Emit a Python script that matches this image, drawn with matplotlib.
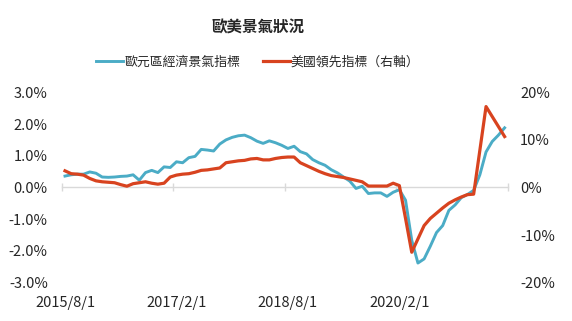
import numpy as np
import pandas as pd
import matplotlib
matplotlib.use("Agg")
import matplotlib.pyplot as plt
from matplotlib.ticker import FuncFormatter

plt.rcParams['font.family'] = ['Noto Sans CJK TC', 'DejaVu Sans']

# monthly categories 2015/8 ~ 2021/7
months = pd.date_range('2015-08-01', periods=72, freq='MS')

# euro area economic indicator, yoy % (left axis)
euro = [0.36, 0.40, 0.42, 0.42, 0.49, 0.45, 0.33, 0.32, 0.33, 0.35,
        0.36, 0.40, 0.23, 0.47, 0.54, 0.47, 0.65, 0.63, 0.81, 0.78,
        0.94, 0.98, 1.20, 1.18, 1.15, 1.37, 1.50, 1.58, 1.63, 1.65,
        1.57, 1.46, 1.39, 1.47, 1.41, 1.33, 1.23, 1.30, 1.13, 1.06,
        0.88, 0.78, 0.70, 0.56, 0.46, 0.33, 0.20, -0.03, 0.04, -0.19,
        -0.17, -0.17, -0.28, -0.15, -0.07, -0.40, -1.66, -2.38, -2.25, -1.85,
        -1.42, -1.20, -0.72, -0.55, -0.32, -0.22, -0.09, 0.40, 1.12, 1.45,
        1.65, 1.88]

# US leading index, yoy % (right axis)
us_lei = [3.5, 2.9, 2.8, 2.6, 1.9, 1.4, 1.2, 1.1, 1.0, 0.6,
          0.27, 0.8, 1.0, 1.2, 0.9, 0.7, 0.9, 2.2, 2.6, 2.8,
          2.9, 3.2, 3.6, 3.7, 3.9, 4.1, 5.2, 5.4, 5.6, 5.7,
          6.0, 6.1, 5.8, 5.8, 6.1, 6.3, 6.4, 6.4, 5.2, 4.6,
          4.0, 3.4, 2.9, 2.5, 2.3, 2.1, 1.8, 1.5, 1.2, 0.3,
          0.3, 0.3, 0.3, 0.9, 0.4, -6.5, -13.6, -10.8, -8.0, -6.5,
          -5.4, -4.3, -3.3, -2.6, -2.0, -1.5, -1.4, 7.8, 17.0, 14.9,
          12.8, 10.7]

teal = '#4BACC6'
red = '#D8431F'
txt = '#262626'

x = np.arange(len(months))

fig = plt.figure(figsize=(5.72, 3.21), dpi=100)
ax = fig.add_axes([0.1079, 0.1193, 0.7797, 0.5932])
ax2 = ax.twinx()

l1, = ax.plot(x, euro, color=teal, lw=2.1, label='歐元區經濟景氣指標', zorder=3)
l2, = ax2.plot(x, us_lei, color=red, lw=2.3, label='美國領先指標（右軸）', zorder=3)

ax.set_xlim(-0.53, 71.18)
ax.set_ylim(-3, 3)
ax2.set_ylim(-20, 20)
ax.set_yticks(np.arange(-3, 3.1, 1))
ax2.set_yticks(np.arange(-20, 21, 10))
ax.yaxis.set_major_formatter(FuncFormatter(lambda v, p: '%.1f%%' % v))
ax2.yaxis.set_major_formatter(FuncFormatter(lambda v, p: '%d%%' % v))

# x axis sits on the zero line, labels pushed down to the bottom
for a in (ax, ax2):
    for s in ['top', 'left', 'right', 'bottom']:
        a.spines[s].set_visible(False)
ax.spines['bottom'].set_visible(True)
ax.spines['bottom'].set_position(('data', 0))
ax.spines['bottom'].set_color('#D9D9D9')
ax.spines['bottom'].set_linewidth(1.0)

lab_idx = [0, 18, 36, 54]
ax.set_xticks(lab_idx)
ax.set_xticklabels(['%d/%d/%d' % (months[i].year, months[i].month, months[i].day) for i in lab_idx])
ax.set_xticks([-0.5, 17.5, 35.5, 53.5, 71.5], minor=True)
ax.tick_params(axis='x', which='major', length=0, pad=78, labelsize=10.5, labelcolor=txt)
ax.tick_params(axis='x', which='minor', length=6, direction='inout', color='#D9D9D9', width=1)
ax.tick_params(axis='y', length=0, pad=10, labelsize=10.5, labelcolor=txt)
ax2.tick_params(axis='y', length=0, pad=9, labelsize=10.5, labelcolor=txt)

fig.text(0.451, 0.915, '歐美景氣狀況', ha='center', va='center', fontsize=11.2,
         fontweight='bold', color=txt)
fig.legend(handles=[l1, l2], loc='center', bbox_to_anchor=(0.451, 0.807), ncol=2,
           frameon=False, fontsize=9.3, handlelength=2.1, handletextpad=0.1,
           columnspacing=1.7, labelcolor=txt)

plt.savefig('out.png', dpi=100)
